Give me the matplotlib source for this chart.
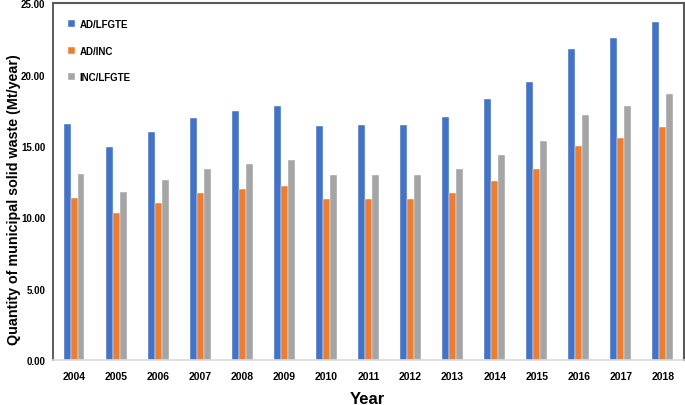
import numpy as np
import matplotlib.pyplot as plt

plt.rcParams['font.family'] = ['Liberation Sans', 'DejaVu Sans']
plt.rcParams['font.weight'] = 'bold'

years = ['2004', '2005', '2006', '2007', '2008', '2009', '2010', '2011',
         '2012', '2013', '2014', '2015', '2016', '2017', '2018']
ad_lfgte = [16.5, 14.9, 15.97, 16.95, 17.44, 17.8, 16.39, 16.45,
            16.45, 17.0, 18.28, 19.47, 21.8, 22.55, 23.67]
ad_inc = [11.35, 10.3, 11.0, 11.7, 12.0, 12.2, 11.3, 11.3,
          11.3, 11.7, 12.55, 13.37, 15.0, 15.55, 16.3]
inc_lfgte = [13.0, 11.76, 12.6, 13.37, 13.7, 13.98, 12.95, 12.95,
             12.95, 13.37, 14.36, 15.34, 17.16, 17.8, 18.63]

x = np.arange(len(years))
w = 0.165

fig = plt.figure(figsize=(6.85, 4.06), dpi=100)
ax = fig.add_axes([0.0774, 0.1108, 0.921, 0.879])

ax.bar(x - w, ad_lfgte, w, color='#4472C4', label='AD/LFGTE', edgecolor='white', linewidth=0.3)
ax.bar(x, ad_inc, w, color='#ED7D31', label='AD/INC', edgecolor='white', linewidth=0.3)
ax.bar(x + w, inc_lfgte, w, color='#A5A5A5', label='INC/LFGTE', edgecolor='white', linewidth=0.3)

ax.set_xlim(-0.5, len(years) - 0.5)
ax.set_ylim(0, 25)
ax.set_yticks(np.arange(0, 25.1, 5))
ax.set_yticklabels(['%.2f' % v for v in np.arange(0, 25.1, 5)])
ax.set_xticks(x)
ax.set_xticklabels(years)
ax.tick_params(length=0, labelsize=7.5, pad=8)
ax.tick_params(axis='y', labelsize=7, pad=5.5)

ax.spines['left'].set_color('#404040')
ax.spines['left'].set_linewidth(1.2)
ax.spines['bottom'].set_color('#D9D9D9')
ax.spines['bottom'].set_linewidth(1.2)
ax.spines['top'].set_color('#595959')
ax.spines['right'].set_color('#595959')
ax.spines['top'].set_linewidth(1.5)
ax.spines['right'].set_linewidth(1.5)

ax.set_xlabel('Year', fontsize=12, fontweight='bold')
ax.set_ylabel('Quantity of municipal solid waste (Mt/year)', fontsize=10.3, fontweight='bold')
ax.xaxis.set_label_coords(0.498, -0.088)
ax.yaxis.set_label_coords(-0.051, 0.451)

ax.legend(loc='upper left', frameon=False, fontsize=7, handlelength=0.7, handleheight=0.7,
          labelspacing=1.7, bbox_to_anchor=(0.01, 0.98), handletextpad=0.5)

plt.savefig('out.png', dpi=100)
